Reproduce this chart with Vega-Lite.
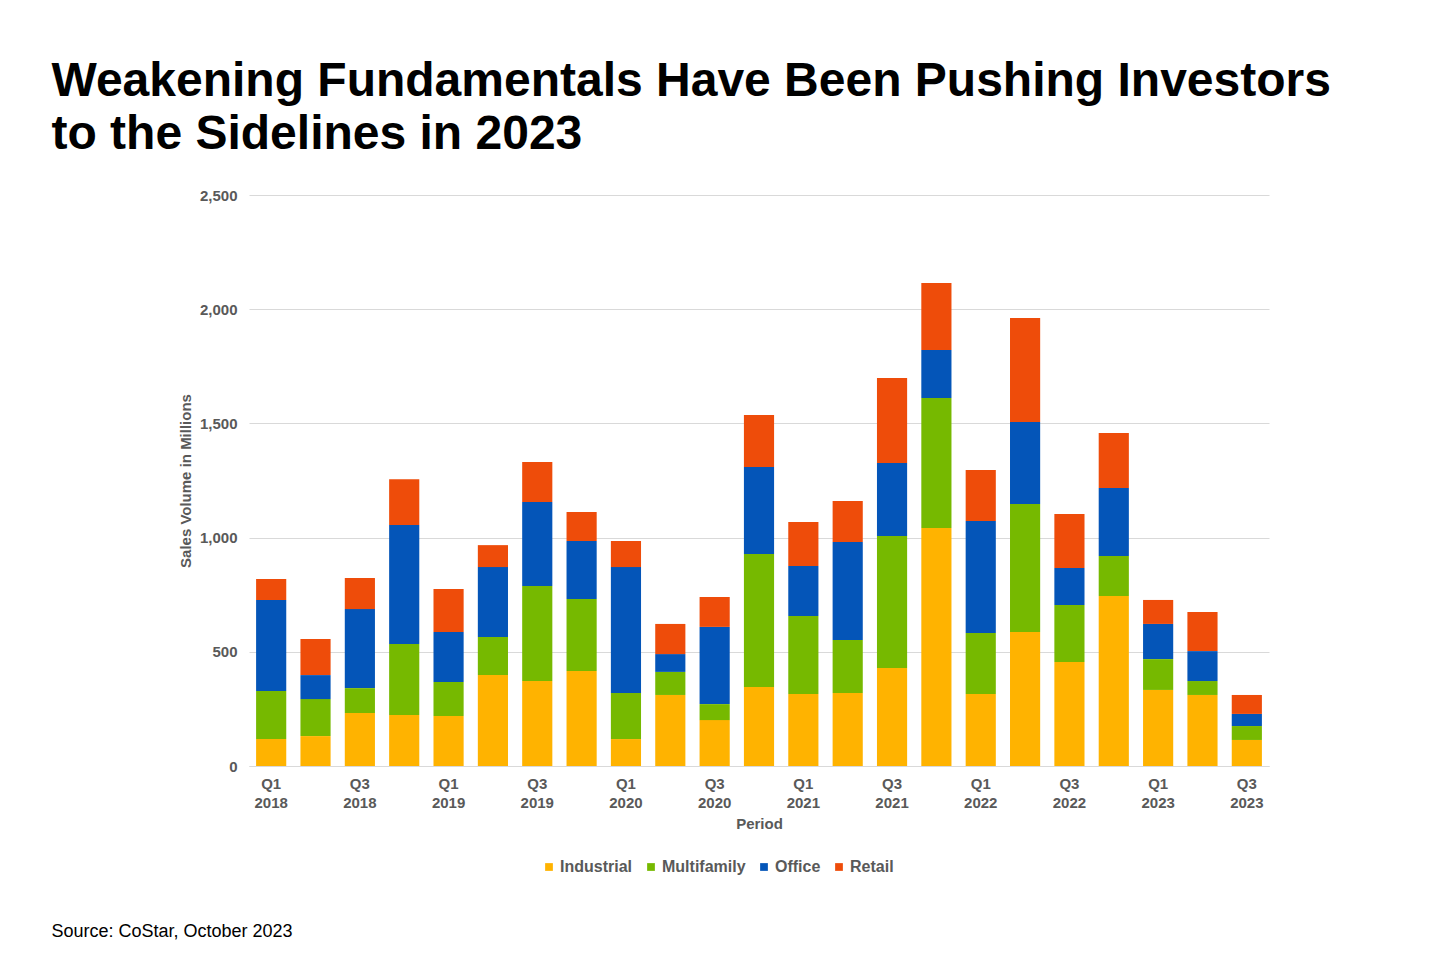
{
  "$schema": "https://vega.github.io/schema/vega-lite/v6.json",
  "background": "white",
  "padding": {"left": 51, "top": 58, "right": 20, "bottom": 10},
  "title": {
    "text": ["Weakening Fundamentals Have Been Pushing Investors", "to the Sidelines in 2023"],
    "orient": "top", "anchor": "start", "font": "Liberation Sans", "fontSize": 48, "fontWeight": "bold",
    "color": "black", "lineHeight": 53, "offset": 29, "dx": 0
  },
  "vconcat": [
    {
      "width": 1020,
      "height": 571,
      "title": {
        "text": "Source: CoStar, October 2023", "orient": "bottom", "anchor": "start",
        "font": "Liberation Sans", "fontSize": 18, "fontWeight": "normal", "color": "black", "dx": -127, "offset": 92
      },
      "data": {
        "values": [
          {"p": "Q1 2018", "t": "Industrial", "k": 1, "v": 118}, {"p": "Q1 2018", "t": "Multifamily", "k": 2, "v": 210}, {"p": "Q1 2018", "t": "Office", "k": 3, "v": 399}, {"p": "Q1 2018", "t": "Retail", "k": 4, "v": 92},
          {"p": "Q2 2018", "t": "Industrial", "k": 1, "v": 131}, {"p": "Q2 2018", "t": "Multifamily", "k": 2, "v": 162}, {"p": "Q2 2018", "t": "Office", "k": 3, "v": 105}, {"p": "Q2 2018", "t": "Retail", "k": 4, "v": 158},
          {"p": "Q3 2018", "t": "Industrial", "k": 1, "v": 232}, {"p": "Q3 2018", "t": "Multifamily", "k": 2, "v": 109}, {"p": "Q3 2018", "t": "Office", "k": 3, "v": 346}, {"p": "Q3 2018", "t": "Retail", "k": 4, "v": 136},
          {"p": "Q4 2018", "t": "Industrial", "k": 1, "v": 223}, {"p": "Q4 2018", "t": "Multifamily", "k": 2, "v": 311}, {"p": "Q4 2018", "t": "Office", "k": 3, "v": 521}, {"p": "Q4 2018", "t": "Retail", "k": 4, "v": 201},
          {"p": "Q1 2019", "t": "Industrial", "k": 1, "v": 219}, {"p": "Q1 2019", "t": "Multifamily", "k": 2, "v": 149}, {"p": "Q1 2019", "t": "Office", "k": 3, "v": 219}, {"p": "Q1 2019", "t": "Retail", "k": 4, "v": 188},
          {"p": "Q2 2019", "t": "Industrial", "k": 1, "v": 398}, {"p": "Q2 2019", "t": "Multifamily", "k": 2, "v": 167}, {"p": "Q2 2019", "t": "Office", "k": 3, "v": 306}, {"p": "Q2 2019", "t": "Retail", "k": 4, "v": 96},
          {"p": "Q3 2019", "t": "Industrial", "k": 1, "v": 372}, {"p": "Q3 2019", "t": "Multifamily", "k": 2, "v": 416}, {"p": "Q3 2019", "t": "Office", "k": 3, "v": 368}, {"p": "Q3 2019", "t": "Retail", "k": 4, "v": 175},
          {"p": "Q4 2019", "t": "Industrial", "k": 1, "v": 416}, {"p": "Q4 2019", "t": "Multifamily", "k": 2, "v": 315}, {"p": "Q4 2019", "t": "Office", "k": 3, "v": 254}, {"p": "Q4 2019", "t": "Retail", "k": 4, "v": 127},
          {"p": "Q1 2020", "t": "Industrial", "k": 1, "v": 118}, {"p": "Q1 2020", "t": "Multifamily", "k": 2, "v": 202}, {"p": "Q1 2020", "t": "Office", "k": 3, "v": 551}, {"p": "Q1 2020", "t": "Retail", "k": 4, "v": 114},
          {"p": "Q2 2020", "t": "Industrial", "k": 1, "v": 311}, {"p": "Q2 2020", "t": "Multifamily", "k": 2, "v": 101}, {"p": "Q2 2020", "t": "Office", "k": 3, "v": 78}, {"p": "Q2 2020", "t": "Retail", "k": 4, "v": 132},
          {"p": "Q3 2020", "t": "Industrial", "k": 1, "v": 201}, {"p": "Q3 2020", "t": "Multifamily", "k": 2, "v": 70}, {"p": "Q3 2020", "t": "Office", "k": 3, "v": 338}, {"p": "Q3 2020", "t": "Retail", "k": 4, "v": 131},
          {"p": "Q4 2020", "t": "Industrial", "k": 1, "v": 346}, {"p": "Q4 2020", "t": "Multifamily", "k": 2, "v": 582}, {"p": "Q4 2020", "t": "Office", "k": 3, "v": 381}, {"p": "Q4 2020", "t": "Retail", "k": 4, "v": 228},
          {"p": "Q1 2021", "t": "Industrial", "k": 1, "v": 315}, {"p": "Q1 2021", "t": "Multifamily", "k": 2, "v": 342}, {"p": "Q1 2021", "t": "Office", "k": 3, "v": 219}, {"p": "Q1 2021", "t": "Retail", "k": 4, "v": 192},
          {"p": "Q2 2021", "t": "Industrial", "k": 1, "v": 320}, {"p": "Q2 2021", "t": "Multifamily", "k": 2, "v": 232}, {"p": "Q2 2021", "t": "Office", "k": 3, "v": 429}, {"p": "Q2 2021", "t": "Retail", "k": 4, "v": 179},
          {"p": "Q3 2021", "t": "Industrial", "k": 1, "v": 429}, {"p": "Q3 2021", "t": "Multifamily", "k": 2, "v": 578}, {"p": "Q3 2021", "t": "Office", "k": 3, "v": 320}, {"p": "Q3 2021", "t": "Retail", "k": 4, "v": 372},
          {"p": "Q4 2021", "t": "Industrial", "k": 1, "v": 1042}, {"p": "Q4 2021", "t": "Multifamily", "k": 2, "v": 569}, {"p": "Q4 2021", "t": "Office", "k": 3, "v": 210}, {"p": "Q4 2021", "t": "Retail", "k": 4, "v": 294},
          {"p": "Q1 2022", "t": "Industrial", "k": 1, "v": 315}, {"p": "Q1 2022", "t": "Multifamily", "k": 2, "v": 267}, {"p": "Q1 2022", "t": "Office", "k": 3, "v": 491}, {"p": "Q1 2022", "t": "Retail", "k": 4, "v": 223},
          {"p": "Q2 2022", "t": "Industrial", "k": 1, "v": 587}, {"p": "Q2 2022", "t": "Multifamily", "k": 2, "v": 560}, {"p": "Q2 2022", "t": "Office", "k": 3, "v": 359}, {"p": "Q2 2022", "t": "Retail", "k": 4, "v": 455},
          {"p": "Q3 2022", "t": "Industrial", "k": 1, "v": 455}, {"p": "Q3 2022", "t": "Multifamily", "k": 2, "v": 250}, {"p": "Q3 2022", "t": "Office", "k": 3, "v": 162}, {"p": "Q3 2022", "t": "Retail", "k": 4, "v": 236},
          {"p": "Q4 2022", "t": "Industrial", "k": 1, "v": 744}, {"p": "Q4 2022", "t": "Multifamily", "k": 2, "v": 175}, {"p": "Q4 2022", "t": "Office", "k": 3, "v": 298}, {"p": "Q4 2022", "t": "Retail", "k": 4, "v": 241},
          {"p": "Q1 2023", "t": "Industrial", "k": 1, "v": 333}, {"p": "Q1 2023", "t": "Multifamily", "k": 2, "v": 135}, {"p": "Q1 2023", "t": "Office", "k": 3, "v": 154}, {"p": "Q1 2023", "t": "Retail", "k": 4, "v": 105},
          {"p": "Q2 2023", "t": "Industrial", "k": 1, "v": 311}, {"p": "Q2 2023", "t": "Multifamily", "k": 2, "v": 61}, {"p": "Q2 2023", "t": "Office", "k": 3, "v": 131}, {"p": "Q2 2023", "t": "Retail", "k": 4, "v": 171},
          {"p": "Q3 2023", "t": "Industrial", "k": 1, "v": 114}, {"p": "Q3 2023", "t": "Multifamily", "k": 2, "v": 61}, {"p": "Q3 2023", "t": "Office", "k": 3, "v": 53}, {"p": "Q3 2023", "t": "Retail", "k": 4, "v": 83}
        ]
      },
      "mark": {"type": "bar"},
      "encoding": {
        "x": {
          "field": "p", "type": "nominal", "sort": null,
          "scale": {"paddingInner": 0.32, "paddingOuter": 0.16},
          "axis": {
            "title": "Period", "labelAngle": 0, "ticks": false, "domain": true, "domainColor": "#d9d9d9",
            "labelExpr": "indexof(['Q1','Q3'], slice(datum.label,0,2)) >= 0 ? split(datum.label, ' ') : ''",
            "labelFontSize": 15, "labelFont": "Liberation Sans", "labelFontWeight": "bold", "labelColor": "#595959", "labelPadding": 10, "labelLineHeight": 19,
            "titleFontSize": 15, "titleFont": "Liberation Sans", "titleFontWeight": "bold", "titleColor": "#595959", "titlePadding": 6
          }
        },
        "y": {
          "field": "v", "type": "quantitative", "stack": "zero",
          "scale": {"domain": [0, 2500]},
          "axis": {
            "title": "Sales Volume in Millions", "values": [0, 500, 1000, 1500, 2000, 2500], "format": ",d",
            "ticks": false, "domain": false, "gridColor": "#d9d9d9",
            "labelFontSize": 15, "labelFont": "Liberation Sans", "labelFontWeight": "bold", "labelColor": "#595959", "labelPadding": 12,
            "titleFontSize": 15, "titleFont": "Liberation Sans", "titleFontWeight": "bold", "titleColor": "#595959", "titlePadding": 6
          }
        },
        "color": {
          "field": "t", "type": "nominal",
          "scale": {"domain": ["Industrial", "Multifamily", "Office", "Retail"], "range": ["#FFB300", "#76B900", "#0455B8", "#EE4C0A"]},
          "legend": {
            "title": null, "orient": "none", "legendX": 292, "legendY": 664, "direction": "horizontal", "symbolType": "square", "symbolSize": 60,
            "labelFontSize": 16, "labelFont": "Liberation Sans", "labelFontWeight": "bold", "labelColor": "#595959",
            "columnPadding": 10, "symbolOffset": 0, "labelOffset": 3
          }
        },
        "order": {"field": "k", "type": "quantitative"}
      }
    }
  ],
  "config": {"view": {"stroke": null}}
}
